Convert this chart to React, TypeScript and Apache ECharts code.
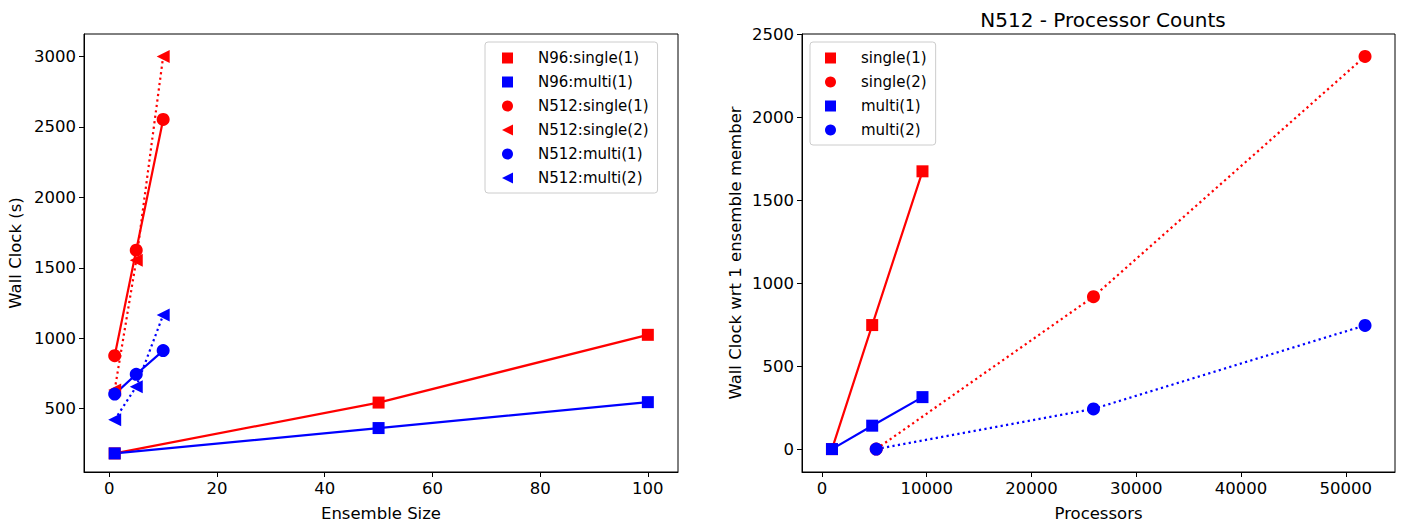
import React, { useEffect, useRef } from "react";
import * as echarts from "echarts";

// ---- Left panel data (Ensemble Size vs Wall Clock) ----
const n96Sizes = [1, 50, 100];
const n96Single1 = [182, 543, 1024];
const n96Multi1 = [182, 362, 546];
const n512Sizes = [1, 5, 10];
const n512Single1 = [876, 1625, 2553];
const n512Single2 = [633, 1553, 3000];
const n512Multi1 = [603, 744, 912];
const n512Multi2 = [421, 656, 1165];

// ---- Right panel data (Processors vs Wall Clock wrt 1 member) ----
const procs1 = [960, 4800, 9600];
const procs2 = [5184, 25920, 51840];
const procSingle1 = [0, 747, 1673];
const procSingle2 = [0, 918, 2365];
const procMulti1 = [0, 141, 313];
const procMulti2 = [0, 242, 745];

// ---- Tick labels ----
const leftXTicks = [0, 20, 40, 60, 80, 100];
const leftYTicks = [500, 1000, 1500, 2000, 2500, 3000];
const rightXTicks = [0, 10000, 20000, 30000, 40000, 50000];
const rightYTicks = [0, 500, 1000, 1500, 2000, 2500];

const RED = "#ff0000";
const BLUE = "#0000ff";
const FONT = "DejaVu Sans";
const TRI_LEFT = "path://M0,5L10,0L10,10Z";

function pairs(xs: number[], ys: number[]) {
  return xs.map((x, i) => [x, ys[i]]);
}

function mk(
  name: string,
  xs: number[],
  ys: number[],
  color: string,
  symbol: string,
  dotted: boolean,
  gi: number
) {
  return {
    name,
    type: "line",
    xAxisIndex: gi,
    yAxisIndex: gi,
    data: pairs(xs, ys),
    symbol: symbol === "tri" ? TRI_LEFT : symbol,
    symbolSize: symbol === "rect" ? 12 : 13,
    showAllSymbol: true,
    color,
    itemStyle: { color, opacity: 1 },
    lineStyle: { color, width: 2.2, type: dotted ? [2.2, 3.3] : "solid" },
    emphasis: { disabled: true },
  };
}

function axisCommon(ticks: number[]) {
  return {
    type: "value",
    axisLine: { show: true, onZero: false, lineStyle: { color: "#000", width: 1 } },
    axisTick: { show: true, length: 5, customValues: ticks, lineStyle: { color: "#000", width: 1 } },
    axisLabel: {
      customValues: ticks,
      formatter: (v: number) => String(v),
      color: "#000",
      fontFamily: FONT,
      fontSize: 16.5,
    },
    splitLine: { show: false },
    nameTextStyle: { color: "#000", fontFamily: FONT, fontSize: 16.5 },
  };
}

export default function App() {
  const ref = useRef<HTMLDivElement>(null);
  useEffect(() => {
    if (!ref.current) return;
    const chart = echarts.init(ref.current, null, { renderer: "svg" });
    const legendCommon = {
      orient: "vertical",
      selectedMode: false,
      backgroundColor: "rgba(255,255,255,0.8)",
      borderColor: "#cccccc",
      borderWidth: 1,
      borderRadius: 3,
      itemWidth: 11,
      itemHeight: 11,
      itemGap: 6,
      textStyle: {
        color: "#000",
        fontFamily: FONT,
        fontSize: 15,
        lineHeight: 18,
        padding: [0, 0, 0, 20],
      },
    };
    chart.setOption({
      animation: false,
      backgroundColor: "#fff",
      title: {
        text: "N512 - Processor Counts",
        left: 1098,
        textAlign: "center",
        top: 5,
        textStyle: { color: "#000", fontFamily: FONT, fontSize: 20, fontWeight: "normal" },
      },
      grid: [
        { left: 84, top: 34, width: 594, height: 440, show: true, borderColor: "#000", borderWidth: 1, backgroundColor: "transparent" },
        { left: 802, top: 34, width: 593, height: 440, show: true, borderColor: "#000", borderWidth: 1, backgroundColor: "transparent" },
      ],
      xAxis: [
        {
          ...axisCommon(leftXTicks),
          gridIndex: 0,
          min: -4.7,
          max: 105.6,
          name: "Ensemble Size",
          nameLocation: "middle",
          nameGap: 33,
        },
        {
          ...axisCommon(rightXTicks),
          gridIndex: 1,
          min: -1900,
          max: 54700,
          name: "Processors",
          nameLocation: "middle",
          nameGap: 33,
        },
      ],
      yAxis: [
        {
          ...axisCommon(leftYTicks),
          gridIndex: 0,
          min: 50,
          max: 3160,
          name: "Wall Clock (s)",
          nameLocation: "middle",
          nameGap: 60,
        },
        {
          ...axisCommon(rightYTicks),
          gridIndex: 1,
          min: -138,
          max: 2500,
          name: "Wall Clock wrt 1 ensemble member",
          nameLocation: "middle",
          nameGap: 58,
        },
      ],
      legend: [
        {
          ...legendCommon,
          left: 485,
          top: 42,
          padding: [7, 9, 6, 17],
          data: [
            { name: "N96:single(1)", icon: "rect" },
            { name: "N96:multi(1)", icon: "rect" },
            { name: "N512:single(1)", icon: "circle" },
            { name: "N512:single(2)", icon: TRI_LEFT },
            { name: "N512:multi(1)", icon: "circle" },
            { name: "N512:multi(2)", icon: TRI_LEFT },
          ],
        },
        {
          ...legendCommon,
          left: 810,
          top: 42,
          padding: [7, 9, 6, 15],
          data: [
            { name: "single(1)", icon: "rect" },
            { name: "single(2)", icon: "circle" },
            { name: "multi(1)", icon: "rect" },
            { name: "multi(2)", icon: "circle" },
          ],
        },
      ],
      series: [
        mk("N96:single(1)", n96Sizes, n96Single1, RED, "rect", false, 0),
        mk("N96:multi(1)", n96Sizes, n96Multi1, BLUE, "rect", false, 0),
        mk("N512:single(1)", n512Sizes, n512Single1, RED, "circle", false, 0),
        mk("N512:single(2)", n512Sizes, n512Single2, RED, "tri", true, 0),
        mk("N512:multi(1)", n512Sizes, n512Multi1, BLUE, "circle", false, 0),
        mk("N512:multi(2)", n512Sizes, n512Multi2, BLUE, "tri", true, 0),
        mk("single(1)", procs1, procSingle1, RED, "rect", false, 1),
        mk("single(2)", procs2, procSingle2, RED, "circle", true, 1),
        mk("multi(1)", procs1, procMulti1, BLUE, "rect", false, 1),
        mk("multi(2)", procs2, procMulti2, BLUE, "circle", true, 1),
      ],
    });
    return () => chart.dispose();
  }, []);
  return (
    <div
      ref={ref}
      style={{ position: "absolute", left: 0, top: 0, width: 1403, height: 527 }}
    />
  );
}
